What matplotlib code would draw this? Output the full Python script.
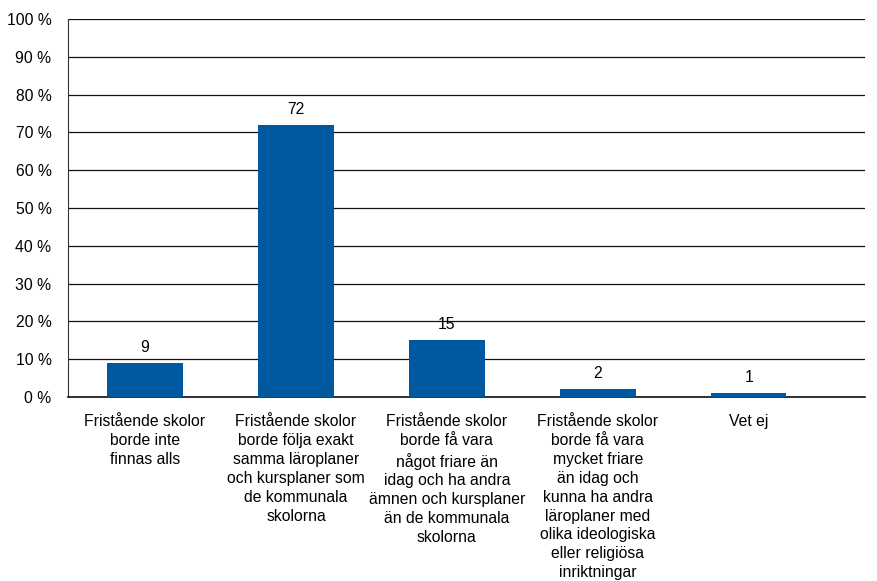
import matplotlib
matplotlib.use("Agg")
import matplotlib.pyplot as plt
import numpy as np

plt.rcParams['font.family'] = ['Liberation Sans', 'DejaVu Sans']

categories = [
    "Fristående skolor\nborde inte\nfinnas alls",
    "Fristående skolor\nborde följa exakt\nsamma läroplaner\noch kursplaner som\nde kommunala\nskolorna",
    "Fristående skolor\nborde få vara\nnågot friare än\nidag och ha andra\nämnen och kursplaner\nän de kommunala\nskolorna",
    "Fristående skolor\nborde få vara\nmycket friare\nän idag och\nkunna ha andra\nläroplaner med\nolika ideologiska\neller religiösa\ninriktningar",
    "Vet ej",
]
values = [9, 72, 15, 2, 1]
yticks = [0, 10, 20, 30, 40, 50, 60, 70, 80, 90, 100]

fig = plt.figure(figsize=(8.77, 5.81), dpi=100)
ax = fig.add_axes([0.0776, 0.3167, 0.9087, 0.6506])

x = np.arange(len(values))
ax.bar(x, values, width=0.5, color='#0059a0', zorder=3)

for xi, v in zip(x, values):
    ax.text(xi, v + 2.2, str(v), ha='center', va='bottom', fontsize=11.3)

ax.set_xlim(-0.51, 4.77)
ax.set_ylim(0, 100)
ax.set_yticks(yticks)
ax.set_yticklabels([f"{t} %" for t in yticks], fontsize=11.3)
ax.set_xticks(x)
ax.set_xticklabels(categories, fontsize=11.3, linespacing=1.32, va='top')
ax.tick_params(axis='x', length=0, pad=12.5)
ax.tick_params(axis='y', length=0, pad=12)
ax.grid(axis='y', color='#111111', linewidth=0.9, zorder=0)

for s in ['top', 'right']:
    ax.spines[s].set_visible(False)
ax.spines['left'].set_color('#333333')
ax.spines['bottom'].set_color('#111111')
ax.spines['bottom'].set_linewidth(1.2)

fig.savefig('out.png', dpi=100)
